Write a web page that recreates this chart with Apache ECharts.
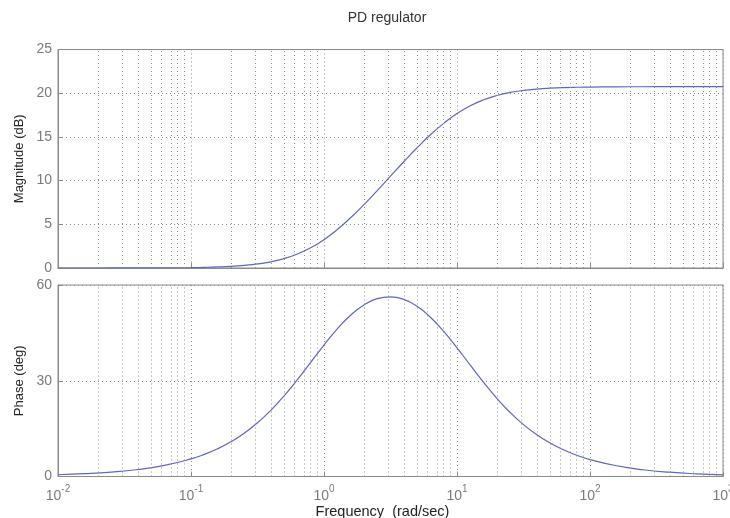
<!DOCTYPE html>
<html>
<head>
<meta charset="utf-8">
<script src="https://cdn.jsdelivr.net/npm/echarts@6/dist/echarts.min.js"></script>
<style>
html,body{margin:0;padding:0;background:#fff;}
#chart{width:730px;height:518px;}
</style>
</head>
<body>
<div id="chart"></div>
<script>
// log10 of frequency (rad/sec)
const logFreq = [-2.0,-1.8,-1.6,-1.4,-1.2,-1.0,-0.9,-0.8,-0.7,-0.6,-0.5,-0.4,-0.3,-0.2,-0.1,0.0,0.1,0.2,0.3,0.4,0.5,0.6,0.7,0.8,0.9,1.0,1.1,1.2,1.3,1.4,1.5,1.6,1.7,1.8,1.9,2.0,2.2,2.4,2.6,2.8,3.0];
const magnitudeDb = [0.0005,0.0012,0.0031,0.0077,0.0194,0.0485,0.0765,0.121,0.190,0.297,0.462,0.710,1.077,1.600,2.315,3.246,4.397,5.744,7.246,8.853,10.509,12.16,13.754,15.24,16.55,17.67,18.57,19.25,19.74,20.09,20.32,20.47,20.57,20.64,20.68,20.70,20.73,20.74,20.75,20.75,20.75];
const phaseDeg = [0.55,0.88,1.39,2.20,3.49,5.51,6.92,8.68,10.86,13.56,16.83,20.73,25.27,30.35,35.77,41.20,46.25,50.54,53.75,55.71,56.29,55.48,53.32,49.90,45.46,40.32,34.87,29.49,24.48,20.05,16.25,13.08,10.48,8.37,6.67,5.31,3.36,2.12,1.34,0.85,0.53];
const decadeTicks = [-2,-1,0,1,2,3];
const magTicks = [0,5,10,15,20,25];
const phaseTicks = [0,30,60];
const titleText = 'PD regulator';
const xName = 'Frequency  (rad/sec)';
const magName = 'Magnitude (dB)';
const phaseName = 'Phase (deg)';

const gridColor = '#8c8c8c';
const axisColor = '#8a8a8a';
const labelColor = '#7a7a7a';
const lineColor = '#5e66bf';
const fontFam = 'Liberation Sans, Arial, sans-serif';

const minorLines = [];
for (let n = decadeTicks[0]; n < decadeTicks[decadeTicks.length-1]; n++) {
  for (let k = 2; k <= 9; k++) minorLines.push({xAxis: n + Math.log10(k)});
}

function makeX(gridIndex, showLabel) {
  return {
    type: 'value', gridIndex: gridIndex,
    min: decadeTicks[0], max: decadeTicks[decadeTicks.length-1], interval: 1,
    axisLine: {show: true, onZero: false, lineStyle: {color: axisColor, width: 1}},
    axisTick: {show: true, inside: true, length: 5, lineStyle: {color: axisColor}},
    splitLine: {show: true, lineStyle: {color: gridColor, type: [1, 3], width: 1}},
    axisLabel: {
      show: showLabel, margin: 8, showMaxLabel: true, showMinLabel: true,
      formatter: function (v) { return '{b|10}{s|' + v + '}'; },
      rich: {
        b: {fontSize: 14, color: labelColor, fontFamily: fontFam, verticalAlign: 'bottom', lineHeight: 19},
        s: {fontSize: 10, color: labelColor, fontFamily: fontFam, verticalAlign: 'top', lineHeight: 19}
      }
    },
    name: showLabel ? xName : '',
    nameLocation: 'middle', nameGap: 26,
    nameTextStyle: {fontSize: 14.5, color: '#222', fontFamily: fontFam, padding: [0, 16, 0, 0]}
  };
}
function makeY(gridIndex, ticks, name) {
  return {
    type: 'value', gridIndex: gridIndex,
    min: ticks[0], max: ticks[ticks.length-1], interval: ticks[1]-ticks[0],
    axisLine: {show: true, onZero: false, lineStyle: {color: axisColor, width: 1}},
    axisTick: {show: true, inside: true, length: 5, lineStyle: {color: axisColor}},
    splitLine: {show: true, lineStyle: {color: gridColor, type: [1, 3], width: 1}},
    axisLabel: {fontSize: 14, color: labelColor, margin: 6, fontFamily: fontFam},
    name: name, nameLocation: 'middle', nameGap: 31,
    nameTextStyle: {fontSize: 13, color: '#222', fontFamily: fontFam}
  };
}

const chart = echarts.init(document.getElementById('chart'), null, {renderer: 'canvas'});
chart.setOption({
  animation: false,
  backgroundColor: '#fff',
  title: {text: titleText, left: 382, top: 6, textAlign: 'center',
    textStyle: {fontSize: 14, fontWeight: 'normal', color: '#333', fontFamily: fontFam}},
  grid: [
    {left: 58, right: 7, top: 49.5, height: 218.5, show: true, borderColor: axisColor, borderWidth: 1, containLabel: false, outerBoundsMode: 'none'},
    {left: 58, right: 7, top: 285, height: 191.5, show: true, borderColor: axisColor, borderWidth: 1, containLabel: false, outerBoundsMode: 'none'}
  ],
  xAxis: [makeX(0, false), makeX(1, true)],
  yAxis: [makeY(0, magTicks, magName), makeY(1, phaseTicks, phaseName)],
  series: [
    {type: 'line', xAxisIndex: 0, yAxisIndex: 0, showSymbol: false, smooth: true,
     lineStyle: {color: lineColor, width: 1.2},
     data: logFreq.map((x, i) => [x, magnitudeDb[i]]),
     markLine: {silent: true, symbol: 'none', label: {show: false},
       lineStyle: {color: gridColor, type: [1, 3], width: 1}, data: minorLines}},
    {type: 'line', xAxisIndex: 1, yAxisIndex: 1, showSymbol: false, smooth: true,
     lineStyle: {color: lineColor, width: 1.2},
     data: logFreq.map((x, i) => [x, phaseDeg[i]]),
     markLine: {silent: true, symbol: 'none', label: {show: false},
       lineStyle: {color: gridColor, type: [1, 3], width: 1}, data: minorLines}}
  ]
});
</script>
</body>
</html>
